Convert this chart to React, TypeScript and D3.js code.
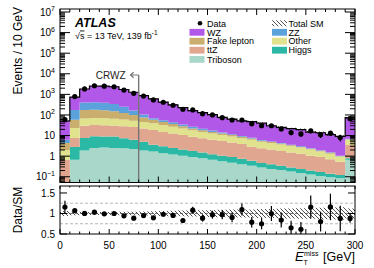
import React, { useEffect, useRef } from 'react';
import * as d3 from 'd3';

// bin edges in GeV (last bin includes overflow)
const binEdges = [0, 10, 20, 30, 40, 50, 60, 70, 80, 90, 100, 110, 120, 130, 140, 150,
    160, 170, 180, 190, 200, 210, 220, 230, 240, 250, 260, 270, 280, 290, 300];

const dataCounts = [59, 781, 1830, 2630, 2500, 2340, 1620, 1120, 830, 537, 414, 297, 189, 175, 115,
    100, 74, 57, 57, 37, 30, 30, 21, 14, 12, 17, 11, 13, 8, 66];

// MC backgrounds, events per bin
const wz = [44.8, 556, 1430, 2130, 2130, 2000, 1470, 1100, 770, 530, 367, 268, 194, 135, 108.5,
    85.5, 62, 51.5, 42.5, 39.2, 34, 24.9, 20.6, 17.9, 16.5, 12.25, 11.75, 9.65, 8.05, 68];
const zz = [1.8, 116, 226, 240, 220, 190, 125, 65, 30, 12, 10, 8, 6, 5, 3.5,
    2.5, 1.5, 1, 0.8, 0.6, 0.4, 0.3, 0.3, 0.2, 0.2, 0.15, 0.1, 0.1, 0.05, 0.4];
const fakeLepton = [2.4, 34.4, 104, 108, 100, 84, 65, 48, 29, 18, 12, 9, 6, 4, 3,
    2.5, 2, 1.5, 1.2, 0.9, 0.6, 0.5, 0.4, 0.3, 0.2, 0.2, 0.15, 0.15, 0.05, 0.4];
const other = [1.34, 16, 38, 39, 38, 36, 32, 26, 24, 21.4, 18, 14.5, 11.5, 9.2, 7.6,
    6.2, 5.1, 4.4, 3.6, 3.4, 2.6, 2.2, 1.9, 1.6, 1.3, 1.05, 0.8, 0.6, 0.41, 2.7];
const ttz = [0.62, 4.8, 22.5, 23.5, 22.7, 21, 20.5, 19.7, 17, 15, 12, 10, 8.4, 7, 5.9,
    5.05, 4.35, 3.7, 3.15, 2.3, 1.94, 1.7, 1.46, 1.22, 1.06, 0.85, 0.73, 0.56, 0.42, 2.7];
const higgs = [0.02, 2.14, 5.7, 6.7, 6.5, 6.4, 5.1, 4.1, 3.1, 1.94, 1.6, 1.3, 1.05, 0.9, 0.72,
    0.59, 0.49, 0.42, 0.35, 0.26, 0.18, 0.16, 0.13, 0.1, 0.09, 0.07, 0.06, 0.045, 0.035, 0.14];
const triboson = [0.02, 0.66, 1.9, 2.5, 2.6, 2.5, 2.4, 2.2, 1.9, 1.66, 1.4, 1.2, 1.05, 0.9, 0.78,
    0.66, 0.56, 0.48, 0.4, 0.34, 0.28, 0.24, 0.21, 0.18, 0.15, 0.13, 0.11, 0.095, 0.085, 0.66];

// relative uncertainty on total SM
const relUnc = [0.06, 0.04, 0.035, 0.035, 0.035, 0.04, 0.04, 0.045, 0.05, 0.055, 0.06, 0.065, 0.07, 0.075, 0.08,
    0.085, 0.09, 0.095, 0.1, 0.1, 0.11, 0.11, 0.12, 0.12, 0.13, 0.13, 0.14, 0.14, 0.15, 0.12];

const yTickPowers = [-1, 0, 1, 2, 3, 4, 5, 6, 7];
const xTickLabels = [0, 50, 100, 150, 200, 250, 300];
const ratioTicks = [0.5, 1, 1.5];

const FONT = '"Liberation Sans", Arial, Helvetica, sans-serif';

const App: React.FC = () => {
    const svgRef = useRef<SVGSVGElement>(null);

    useEffect(() => {
        if (!svgRef.current) return;
        const svg = d3.select(svgRef.current);
        svg.selectAll('*').remove();
        svg.attr('font-family', FONT);

        const L = 60, R = 355;
        const upT = 9, upB = 182.5;
        const loT = 186, loB = 234;
        const yMin = 0.0525;

        const x = d3.scaleLinear().domain([0, 300]).range([L, R]);
        const y = d3.scaleLog().domain([yMin, 1.4e7]).range([upB, upT]);
        const yr = d3.scaleLinear().domain([0.5, 1.67]).range([loB, loT]);

        // stack bottom -> top
        const layers = [
            { name: 'Triboson', vals: triboson, color: '#a9d8ca' },
            { name: 'Higgs', vals: higgs, color: '#2bb8a4' },
            { name: 'ttZ', vals: ttz, color: '#e0a690' },
            { name: 'Other', vals: other, color: '#e0e28e' },
            { name: 'Fake lepton', vals: fakeLepton, color: '#c9ae6e' },
            { name: 'ZZ', vals: zz, color: '#5ba1dc' },
            { name: 'WZ', vals: wz, color: '#b258e8' },
        ];
        const nB = dataCounts.length;
        const table = d3.range(nB).map(i => {
            const row: any = { i };
            layers.forEach(l => { row[l.name] = l.vals[i]; });
            return row;
        });
        const stacked = d3.stack<any>().keys(layers.map(l => l.name))(table);
        const total = table.map((_, i) => stacked[stacked.length - 1][i][1]);

        const defs = svg.append('defs');
        defs.append('clipPath').attr('id', 'clip-up').append('rect')
            .attr('x', L).attr('y', upT).attr('width', R - L).attr('height', upB - upT);
        defs.append('clipPath').attr('id', 'clip-lo').append('rect')
            .attr('x', L).attr('y', loT).attr('width', R - L).attr('height', loB - loT);
        const pat = defs.append('pattern').attr('id', 'hatch')
            .attr('patternUnits', 'userSpaceOnUse').attr('width', 4).attr('height', 4);
        pat.append('path').attr('d', 'M-1,-1 L5,5 M-1,3 L1,5 M3,-1 L5,1')
            .attr('stroke', '#222').attr('stroke-width', 0.8);

        const edgeIdx = d3.range(nB + 1);
        const bi = (k: number) => Math.min(k, nB - 1);

        // ---- upper panel ----
        const up = svg.append('g').attr('clip-path', 'url(#clip-up)');

        stacked.forEach((s, li) => {
            const area = d3.area<number>()
                .curve(d3.curveStepAfter)
                .x(k => x(binEdges[k]))
                .y0(k => y(Math.max(s[bi(k)][0], yMin * 0.5)))
                .y1(k => y(Math.max(s[bi(k)][1], yMin * 0.5)));
            up.append('path').attr('d', area(edgeIdx) as string)
                .attr('fill', layers[li].color).attr('stroke', 'none');
        });

        const band = d3.area<number>()
            .curve(d3.curveStepAfter)
            .x(k => x(binEdges[k]))
            .y0(k => y(total[bi(k)] * (1 - relUnc[bi(k)])))
            .y1(k => y(total[bi(k)] * (1 + relUnc[bi(k)])));
        up.append('path').attr('d', band(edgeIdx) as string).attr('fill', 'url(#hatch)');

        const totLine = d3.line<number>()
            .curve(d3.curveStepAfter)
            .x(k => x(binEdges[k]))
            .y(k => y(total[bi(k)]));
        up.append('path').attr('d', totLine(edgeIdx) as string)
            .attr('fill', 'none').attr('stroke', '#000').attr('stroke-width', 1.2);

        // CRWZ cut line
        const xc = x(80);
        up.append('line').attr('x1', xc).attr('x2', xc).attr('y1', 75).attr('y2', upB)
            .attr('stroke', '#777').attr('stroke-width', 1.4);
        up.append('path').attr('d', `M${xc},75 L${xc - 8},75 M${xc - 5},72.3 L${xc - 8.2},75 L${xc - 5},77.7`)
            .attr('fill', 'none').attr('stroke', '#777').attr('stroke-width', 1.2);
        svg.append('text').attr('x', xc - 13).attr('y', 78.5).attr('text-anchor', 'end')
            .attr('font-size', 10).attr('fill', '#222').text('CRWZ');

        dataCounts.forEach((n, i) => {
            const cx = x((binEdges[i] + binEdges[i + 1]) / 2);
            const e = Math.sqrt(n);
            up.append('line').attr('x1', cx).attr('x2', cx)
                .attr('y1', y(n + e)).attr('y2', y(Math.max(n - e, yMin)))
                .attr('stroke', '#000').attr('stroke-width', 1.2);
            up.append('circle').attr('cx', cx).attr('cy', y(n)).attr('r', 2.6).attr('fill', '#000');
        });

        // ---- lower panel ----
        const lo = svg.append('g').attr('clip-path', 'url(#clip-lo)');
        const rband = d3.area<number>()
            .curve(d3.curveStepAfter)
            .x(k => x(binEdges[k]))
            .y0(k => yr(1 - relUnc[bi(k)]))
            .y1(k => yr(1 + relUnc[bi(k)]));
        lo.append('path').attr('d', rband(edgeIdx) as string).attr('fill', 'url(#hatch)');
        [0.75, 1.25].forEach(v => {
            lo.append('line').attr('x1', L).attr('x2', R).attr('y1', yr(v)).attr('y2', yr(v))
                .attr('stroke', '#999').attr('stroke-width', 0.7).attr('stroke-dasharray', '3,2');
        });
        lo.append('line').attr('x1', L).attr('x2', R).attr('y1', yr(1)).attr('y2', yr(1))
            .attr('stroke', '#444').attr('stroke-width', 0.7).attr('stroke-dasharray', '3,2');

        dataCounts.forEach((n, i) => {
            const cx = x((binEdges[i] + binEdges[i + 1]) / 2);
            const r = n / total[i];
            const e = Math.sqrt(n) / total[i];
            lo.append('line').attr('x1', cx).attr('x2', cx)
                .attr('y1', yr(r + e)).attr('y2', yr(r - e))
                .attr('stroke', '#000').attr('stroke-width', 1.2);
            lo.append('circle').attr('cx', cx).attr('cy', yr(r)).attr('r', 2.6).attr('fill', '#000');
        });

        // ---- frames and ticks ----
        const axes = svg.append('g').attr('stroke', '#000').attr('fill', 'none');
        axes.append('rect').attr('x', L).attr('y', upT).attr('width', R - L).attr('height', upB - upT)
            .attr('stroke-width', 1);
        axes.append('rect').attr('x', L).attr('y', loT).attr('width', R - L).attr('height', loB - loT)
            .attr('stroke-width', 1);

        const xMinor = d3.range(0, 301, 10);
        xMinor.forEach(v => {
            const major = v % 50 === 0;
            const xx = x(v);
            const lu = major ? 6 : 3;
            const ll = major ? 5 : 2.5;
            axes.append('line').attr('x1', xx).attr('x2', xx).attr('y1', upB).attr('y2', upB - lu);
            axes.append('line').attr('x1', xx).attr('x2', xx).attr('y1', upT).attr('y2', upT + lu);
            axes.append('line').attr('x1', xx).attr('x2', xx).attr('y1', loB).attr('y2', loB - ll);
            axes.append('line').attr('x1', xx).attr('x2', xx).attr('y1', loT).attr('y2', loT + ll * 0.6);
        });

        // log ticks
        for (let p = -2; p <= 7; p++) {
            for (let k = 1; k <= 9; k++) {
                const v = k * Math.pow(10, p);
                if (v < yMin || v > 1.4e7) continue;
                const yy = y(v);
                const len = k === 1 ? 10 : 5;
                axes.append('line').attr('x1', L).attr('x2', L + len).attr('y1', yy).attr('y2', yy);
                axes.append('line').attr('x1', R).attr('x2', R - len).attr('y1', yy).attr('y2', yy);
            }
        }
        ratioTicks.forEach(v => {
            axes.append('line').attr('x1', L).attr('x2', L + 7).attr('y1', yr(v)).attr('y2', yr(v));
            axes.append('line').attr('x1', R).attr('x2', R - 7).attr('y1', yr(v)).attr('y2', yr(v));
        });

        // ---- tick labels ----
        const labels = svg.append('g').attr('fill', '#000').attr('font-size', 10);
        yTickPowers.forEach(p => {
            const t = labels.append('text').attr('x', 55).attr('y', y(Math.pow(10, p)) + 3.6)
                .attr('text-anchor', 'end');
            if (p === 0) t.text('1');
            else if (p === 1) t.text('10');
            else {
                t.append('tspan').text('10');
                t.append('tspan').attr('dy', -4.5).attr('font-size', 7)
                    .text(p < 0 ? '\u2212' + Math.abs(p) : String(p));
            }
        });
        ratioTicks.forEach(v => {
            labels.append('text').attr('x', 55).attr('y', yr(v) + 3.6).attr('text-anchor', 'end')
                .text(String(v));
        });
        xTickLabels.forEach(v => {
            labels.append('text').attr('x', x(v)).attr('y', 248.5).attr('text-anchor', 'middle')
                .text(String(v));
        });

        // ---- axis titles ----
        svg.append('text').attr('transform', 'translate(22,7) rotate(-90)')
            .attr('text-anchor', 'end').attr('font-size', 12).text('Events / 10 GeV');
        svg.append('text').attr('transform', `translate(22,${(loT + loB) / 2}) rotate(-90)`)
            .attr('text-anchor', 'middle').attr('font-size', 12).text('Data/SM');

        svg.append('text').attr('x', 355).attr('y', 261).attr('text-anchor', 'end')
            .attr('font-size', 12.5).text('[GeV]');
        svg.append('text').attr('x', 295).attr('y', 261).attr('font-size', 13)
            .attr('font-style', 'italic').text('E');
        svg.append('text').attr('x', 304).attr('y', 255.5).attr('font-size', 7).text('miss');
        svg.append('text').attr('x', 303.5).attr('y', 264.5).attr('font-size', 7).text('T');

        // ---- ATLAS label ----
        svg.append('text').attr('x', 75).attr('y', 27).attr('font-size', 12.5)
            .attr('font-weight', 'bold').attr('font-style', 'italic').text('ATLAS');
        const lumi = svg.append('text').attr('x', 75).attr('y', 38.5).attr('font-size', 9);
        lumi.append('tspan').text('\u221A');
        lumi.append('tspan').attr('text-decoration', 'overline').text('s');
        lumi.append('tspan').text(' = 13 TeV, 139 fb');
        lumi.append('tspan').attr('dy', -3.5).attr('font-size', 6.5).text('-1');

        // ---- legend ----
        const leg = svg.append('g').attr('font-size', 9);
        const rowY = [23.3, 32.3, 41.2, 50.2, 59.4];
        const leftItems = ['Data', 'WZ', 'Fake lepton', 'ttZ', 'Triboson'];
        const rightItems = ['Total SM', 'ZZ', 'Other', 'Higgs'];
        const colorOf = (nm: string) => layers.find(l => l.name === nm)!.color;

        leftItems.forEach((nm, i) => {
            const yy = rowY[i];
            if (nm === 'Data') {
                leg.append('circle').attr('cx', 200).attr('cy', yy).attr('r', 2.3).attr('fill', '#000');
            } else {
                leg.append('rect').attr('x', 189.5).attr('y', yy - 3.4).attr('width', 15).attr('height', 6.8)
                    .attr('fill', colorOf(nm));
            }
            leg.append('text').attr('x', 207).attr('y', yy + 3.2).text(nm);
        });
        rightItems.forEach((nm, i) => {
            const yy = rowY[i];
            if (nm === 'Total SM') {
                leg.append('rect').attr('x', 272).attr('y', yy - 3).attr('width', 15).attr('height', 6)
                    .attr('fill', 'url(#hatch)');
            } else {
                leg.append('rect').attr('x', 272).attr('y', yy - 3.4).attr('width', 15).attr('height', 6.8)
                    .attr('fill', colorOf(nm));
            }
            leg.append('text').attr('x', 288.5).attr('y', yy + 3.2).text(nm);
        });
    }, []);

    return (
        <div style={{ position: 'absolute', left: 0, top: 0 }}>
            <svg ref={svgRef} width={374} height={268} />
        </div>
    );
};

export default App;
